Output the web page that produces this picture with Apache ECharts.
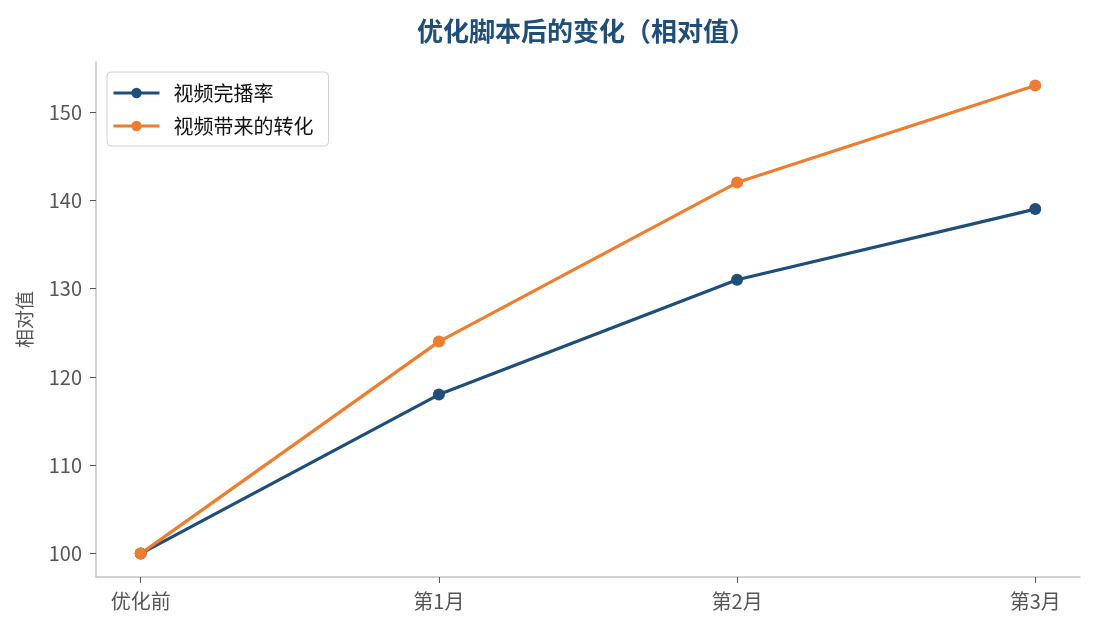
<!DOCTYPE html>
<html><head><meta charset="utf-8">
<script src="https://cdn.jsdelivr.net/npm/echarts@6/dist/echarts.min.js"></script>
<style>html,body{margin:0;padding:0;background:#fff}#c{width:1095px;height:630px}</style>
</head><body><div id="c"></div>
<script>
const categories = ['优化前', '第1月', '第2月', '第3月'];
const completionRate = [100, 118, 131, 139];
const conversion = [100, 124, 142, 153];
const yTicks = [100, 110, 120, 130, 140, 150];
const seriesNames = ['视频完播率', '视频带来的转化'];
const colors = ['#1f4e79', '#ed7d31'];

const font = '"Noto Sans CJK SC", "Noto Sans", sans-serif';
const chart = echarts.init(document.getElementById('c'));
const toPairs = arr => arr.map((v, i) => [i, v]);
chart.setOption({
  animation: false,
  textStyle: { fontFamily: font },
  title: {
    text: '优化脚本后的变化（相对值）',
    left: 581, top: 13, textAlign: 'center',
    textStyle: { fontFamily: font, fontSize: 26, fontWeight: 'bold', color: '#1f4e79' }
  },
  legend: {
    orient: 'vertical', left: 107, top: 72,
    padding: [11, 15, 10, 5], itemGap: 13, itemWidth: 46, itemHeight: 13,
    borderColor: '#d0d0d0', borderWidth: 1, borderRadius: 4, backgroundColor: '#fff',
    lineStyle: { width: 3 },
    textStyle: { fontFamily: font, fontSize: 20, color: '#111', padding: [0, 0, 0, 9] },
    data: seriesNames
  },
  grid: { left: 96, right: 15, top: 62, bottom: 53, containLabel: false },
  xAxis: {
    type: 'value', min: -0.15, max: 3.15,
    splitLine: { show: false },
    axisLine: { onZero: false, lineStyle: { color: '#c4c4c4', width: 1.5 } },
    axisTick: { show: true, customValues: [0, 1, 2, 3], length: 6, lineStyle: { color: '#555' } },
    axisLabel: {
      customValues: [0, 1, 2, 3], margin: 14,
      formatter: v => categories[Math.round(v)],
      fontFamily: font, fontSize: 20, color: '#555'
    }
  },
  yAxis: {
    type: 'value', min: 97.35, max: 155.65,
    name: '相对值', nameLocation: 'middle', nameGap: 62, nameRotate: 90,
    nameTextStyle: { fontFamily: font, fontSize: 19, color: '#555' },
    splitLine: { show: false },
    axisLine: { show: true, onZero: false, lineStyle: { color: '#c4c4c4', width: 1.5 } },
    axisTick: { show: true, customValues: yTicks, length: 6, lineStyle: { color: '#555' } },
    axisLabel: { customValues: yTicks, margin: 14, fontFamily: font, fontSize: 20, color: '#555' }
  },
  series: [
    { name: seriesNames[0], type: 'line', data: toPairs(completionRate), color: colors[0],
      symbol: 'circle', symbolSize: 12, lineStyle: { width: 3.2 } },
    { name: seriesNames[1], type: 'line', data: toPairs(conversion), color: colors[1],
      symbol: 'circle', symbolSize: 12, lineStyle: { width: 3.2 } }
  ]
});
</script></body></html>
